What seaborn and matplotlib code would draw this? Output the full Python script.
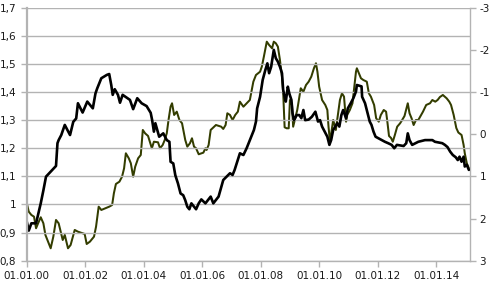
import matplotlib
matplotlib.use("Agg")
import matplotlib.pyplot as plt
import matplotlib.dates as mdates
import matplotlib.ticker as mticker
import seaborn as sns
import pandas as pd
import numpy as np

# ---- data (decimal years) ----
black_years = [2000.00, 2000.07, 2000.16, 2000.32, 2000.48, 2000.57, 2000.66, 2000.82, 2001.00, 2001.05,
               2001.09, 2001.18, 2001.30, 2001.48, 2001.59, 2001.69, 2001.75, 2001.91, 2002.07, 2002.26,
               2002.35, 2002.41, 2002.55, 2002.74, 2002.82, 2002.89, 2002.94, 2003.01, 2003.12, 2003.19,
               2003.28, 2003.53, 2003.64, 2003.78, 2003.93, 2004.10, 2004.24, 2004.29, 2004.35, 2004.40,
               2004.53, 2004.67, 2004.79, 2004.88, 2004.92, 2005.01, 2005.08, 2005.17, 2005.26, 2005.35,
               2005.42, 2005.49, 2005.56, 2005.63, 2005.79, 2005.88, 2005.97, 2006.11, 2006.29, 2006.38,
               2006.47, 2006.56, 2006.72, 2006.95, 2007.04, 2007.11, 2007.29, 2007.41, 2007.52, 2007.63,
               2007.77, 2007.84, 2007.88, 2007.98, 2008.07, 2008.16, 2008.23, 2008.29, 2008.36, 2008.45,
               2008.52, 2008.59, 2008.66, 2008.73, 2008.77, 2008.82, 2008.86, 2008.93, 2008.98, 2009.05,
               2009.09, 2009.14, 2009.23, 2009.32, 2009.39, 2009.46, 2009.52, 2009.64, 2009.75, 2009.87,
               2009.96, 2010.03, 2010.10, 2010.19, 2010.28, 2010.35, 2010.41, 2010.48, 2010.62, 2010.69,
               2010.76, 2010.82, 2010.92, 2010.98, 2011.08, 2011.17, 2011.26, 2011.29, 2011.45, 2011.47,
               2011.57, 2011.66, 2011.73, 2011.79, 2011.86, 2011.93, 2012.14, 2012.25, 2012.36, 2012.48,
               2012.57, 2012.66, 2012.89, 2012.98, 2013.03, 2013.09, 2013.18, 2013.39, 2013.62, 2013.87,
               2013.96, 2014.21, 2014.30, 2014.39, 2014.48, 2014.57, 2014.67, 2014.74, 2014.80, 2014.87,
               2014.94, 2014.98, 2015.05, 2015.12]
black_values = [0.940, 0.907, 0.933, 0.933, 1.004, 1.050, 1.099, 1.117, 1.137, 1.218,
                1.229, 1.247, 1.283, 1.247, 1.294, 1.306, 1.360, 1.327, 1.366, 1.342,
                1.395, 1.413, 1.449, 1.461, 1.464, 1.425, 1.390, 1.410, 1.390, 1.362,
                1.390, 1.372, 1.339, 1.378, 1.360, 1.350, 1.326, 1.300, 1.259, 1.289,
                1.241, 1.253, 1.229, 1.223, 1.152, 1.146, 1.104, 1.075, 1.039, 1.033,
                1.015, 0.992, 0.983, 1.004, 0.983, 1.004, 1.018, 1.004, 1.028, 1.004,
                1.016, 1.028, 1.087, 1.111, 1.105, 1.123, 1.182, 1.176, 1.200, 1.229,
                1.265, 1.295, 1.342, 1.383, 1.443, 1.478, 1.502, 1.467, 1.490, 1.550,
                1.520, 1.508, 1.490, 1.467, 1.408, 1.383, 1.366, 1.419, 1.395, 1.372,
                1.324, 1.300, 1.318, 1.318, 1.307, 1.336, 1.300, 1.302, 1.312, 1.330,
                1.295, 1.300, 1.277, 1.259, 1.241, 1.212, 1.229, 1.265, 1.289, 1.277,
                1.318, 1.336, 1.307, 1.342, 1.360, 1.378, 1.402, 1.425, 1.420, 1.383,
                1.360, 1.324, 1.295, 1.283, 1.259, 1.241, 1.229, 1.223, 1.218, 1.212,
                1.200, 1.212, 1.208, 1.218, 1.253, 1.229, 1.212, 1.223, 1.229, 1.229,
                1.223, 1.218, 1.212, 1.204, 1.188, 1.176, 1.168, 1.158, 1.170, 1.152,
                1.170, 1.135, 1.141, 1.123]

olive_years = [2000.00, 2000.07, 2000.16, 2000.25, 2000.32, 2000.39, 2000.48, 2000.57, 2000.64, 2000.82,
               2000.91, 2001.00, 2001.09, 2001.23, 2001.30, 2001.41, 2001.50, 2001.64, 2001.75, 2001.98,
               2002.05, 2002.16, 2002.30, 2002.37, 2002.46, 2002.55, 2002.82, 2002.92, 2002.98, 2003.05,
               2003.17, 2003.26, 2003.33, 2003.39, 2003.49, 2003.56, 2003.64, 2003.71, 2003.81, 2003.90,
               2003.97, 2004.05, 2004.15, 2004.28, 2004.35, 2004.49, 2004.56, 2004.65, 2004.72, 2004.79,
               2004.85, 2004.92, 2004.97, 2005.04, 2005.13, 2005.22, 2005.31, 2005.42, 2005.49, 2005.58,
               2005.65, 2005.72, 2005.79, 2005.88, 2006.04, 2006.11, 2006.15, 2006.22, 2006.29, 2006.47,
               2006.65, 2006.72, 2006.80, 2006.86, 2006.95, 2007.04, 2007.13, 2007.22, 2007.29, 2007.41,
               2007.52, 2007.63, 2007.75, 2007.84, 2007.98, 2008.04, 2008.11, 2008.21, 2008.29, 2008.39,
               2008.45, 2008.52, 2008.59, 2008.66, 2008.73, 2008.77, 2008.82, 2008.89, 2008.96, 2009.00,
               2009.07, 2009.11, 2009.18, 2009.25, 2009.37, 2009.46, 2009.55, 2009.64, 2009.73, 2009.82,
               2009.89, 2009.94, 2010.00, 2010.10, 2010.21, 2010.28, 2010.32, 2010.37, 2010.48, 2010.57,
               2010.71, 2010.78, 2010.85, 2010.92, 2010.96, 2011.05, 2011.14, 2011.26, 2011.29, 2011.36,
               2011.43, 2011.51, 2011.63, 2011.70, 2011.77, 2011.88, 2011.95, 2012.04, 2012.11, 2012.21,
               2012.29, 2012.34, 2012.39, 2012.46, 2012.52, 2012.59, 2012.67, 2012.77, 2012.84, 2012.92,
               2013.03, 2013.09, 2013.16, 2013.23, 2013.31, 2013.39, 2013.55, 2013.66, 2013.79, 2013.87,
               2013.97, 2014.05, 2014.13, 2014.23, 2014.36, 2014.45, 2014.51, 2014.60, 2014.69, 2014.76,
               2014.87, 2014.94, 2014.98, 2015.05, 2015.12]
olive_values = [1.624, 1.838, 1.916, 1.956, 2.231, 2.113, 1.970, 2.113, 2.390, 2.706,
                2.430, 2.034, 2.113, 2.509, 2.390, 2.706, 2.627, 2.271, 2.312, 2.366,
                2.604, 2.549, 2.430, 2.193, 1.719, 1.797, 1.719, 1.679, 1.401, 1.181,
                1.126, 1.008, 0.808, 0.453, 0.571, 0.690, 1.008, 0.770, 0.571, 0.493,
                -0.100, -0.020, 0.042, 0.334, 0.178, 0.192, 0.334, 0.256, 0.137, -0.022,
                -0.337, -0.652, -0.733, -0.456, -0.534, -0.337, -0.259, 0.137, 0.296, 0.216,
                0.097, 0.296, 0.334, 0.476, 0.438, 0.334, 0.374, 0.256, -0.100, -0.218,
                -0.178, -0.124, -0.218, -0.496, -0.456, -0.337, -0.456, -0.534, -0.771, -0.652,
                -0.733, -0.811, -1.245, -1.404, -1.482, -1.601, -1.838, -2.194, -2.115, -2.037,
                -2.194, -2.156, -2.075, -1.760, -1.364, -1.008, -0.164, -0.140, -0.140, -0.811,
                -0.693, -0.178, -0.377, -0.574, -1.089, -1.008, -1.167, -1.245, -1.364, -1.563,
                -1.682, -1.482, -1.127, -0.811, -0.693, -0.574, -0.178, 0.178, -0.337, -0.100,
                -0.811, -0.970, -0.890, -0.297, -0.456, -0.574, -0.733, -1.482, -1.563, -1.444,
                -1.326, -1.286, -1.245, -0.970, -0.890, -0.693, -0.377, -0.297, -0.456, -0.574,
                -0.534, -0.259, 0.042, 0.090, 0.178, 0.019, -0.178, -0.259, -0.337, -0.432,
                -0.733, -0.496, -0.377, -0.218, -0.337, -0.337, -0.534, -0.693, -0.733, -0.811,
                -0.771, -0.811, -0.882, -0.930, -0.851, -0.771, -0.693, -0.456, -0.147, -0.040,
                0.019, 0.256, 0.453, 0.690, 0.808]

left_ticks = [0.8, 0.9, 1.0, 1.1, 1.2, 1.3, 1.4, 1.5, 1.6, 1.7]
right_ticks = [-3, -2, -1, 0, 1, 2, 3]
x_tick_years = [2000, 2002, 2004, 2006, 2008, 2010, 2012, 2014]


def to_dates(years):
    years = np.asarray(years, dtype=float)
    base = pd.to_datetime([f"{int(np.floor(y))}-01-01" for y in years])
    return base + pd.to_timedelta((years - np.floor(years)) * 365.25, unit="D")


df_black = pd.DataFrame({"date": to_dates(black_years), "value": black_values})
df_olive = pd.DataFrame({"date": to_dates(olive_years), "value": olive_values})

sns.set_style("white")
plt.rcParams["font.family"] = ["DejaVu Sans"]

fig = plt.figure(figsize=(4.90, 2.85), dpi=100)
ax = fig.add_axes([0.0545, 0.0853, 0.9045, 0.8877])
ax2 = ax.twinx()

grid_c = "#b3b3b3"
text_c = "#1a1a1a"
olive_c = "#333d00"

sns.lineplot(data=df_olive, x="date", y="value", ax=ax2, color=olive_c, linewidth=1.45,
             estimator=None, sort=False)
sns.lineplot(data=df_black, x="date", y="value", ax=ax, color="#000000", linewidth=1.9,
             estimator=None, sort=False)

# put the primary axis (black line) on top
ax.set_zorder(ax2.get_zorder() + 1)
ax.patch.set_visible(False)

ax.set_xlim(pd.Timestamp("2000-01-01"), pd.Timestamp("2015-02-27"))
ax.set_ylim(0.8, 1.7)
ax2.set_ylim(3, -3)

ax.set_yticks(left_ticks)
ax.yaxis.set_major_formatter(mticker.FuncFormatter(
    lambda v, p: (f"{v:.1f}".rstrip("0").rstrip(".")).replace(".", ",")))
ax2.set_yticks(right_ticks)
ax2.yaxis.set_major_formatter(mticker.FuncFormatter(lambda v, p: f"{int(round(v))}"))

ax.set_xticks([pd.Timestamp(f"{y}-01-01") for y in x_tick_years])
ax.xaxis.set_major_formatter(mdates.DateFormatter("%d.%m.%y"))

ax.grid(axis="y", color=grid_c, linewidth=1.0)
ax.grid(axis="x", visible=False)
ax2.grid(False)

for a in (ax, ax2):
    a.set_xlabel("")
    a.set_ylabel("")
    for s in a.spines.values():
        s.set_visible(False)

ax.spines["left"].set_visible(True)
ax.spines["left"].set_color(grid_c)
ax.spines["left"].set_linewidth(1.6)
ax.spines["bottom"].set_visible(True)
ax.spines["bottom"].set_color(grid_c)
ax.spines["bottom"].set_linewidth(1.0)
ax2.spines["right"].set_visible(True)
ax2.spines["right"].set_color(grid_c)
ax2.spines["right"].set_linewidth(1.0)

ax.tick_params(axis="y", left=True, length=4, width=1.0, color=grid_c, pad=3.5,
               labelsize=7.5, labelcolor=text_c)
ax.tick_params(axis="x", bottom=True, length=4.5, width=1.0, color=grid_c, pad=3,
               labelsize=7.5, labelcolor=text_c)
ax2.tick_params(axis="y", right=True, length=4, width=1.0, color=grid_c, pad=3,
                labelsize=7.5, labelcolor=text_c)

fig.savefig("out.png", dpi=100)
